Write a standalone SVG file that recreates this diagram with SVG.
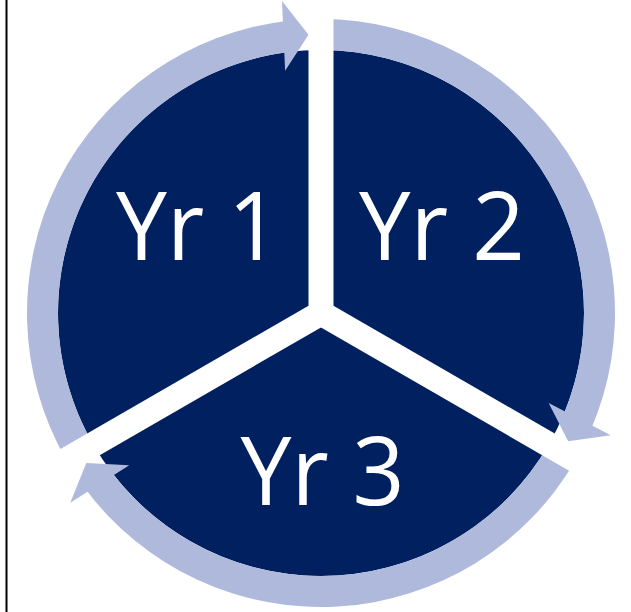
<svg xmlns="http://www.w3.org/2000/svg" width="631" height="612" viewBox="0 0 631 612">
<style>
.sector{fill:#002060}
.ring{fill:#AEB9DC}
.gap{fill:#FFFFFF}
.lbl{font-family:"Open Sans","Noto Sans","Liberation Sans",sans-serif;font-size:95px;fill:#FFFFFF;text-anchor:middle}
</style>
<rect width="631" height="612" fill="#FFFFFF"/>
<line x1="6.5" y1="0" x2="6.5" y2="612" stroke="#000000" stroke-width="2"/>
<g id="yr1">
<path class="sector" d="M321 313 L93.24 444.5 A263 263 0 0 1 321 50 Z"/>
<text class="lbl" x="198" y="260" textLength="164" lengthAdjust="spacingAndGlyphs">Yr 1</text>
</g>
<g id="yr2">
<path class="sector" d="M321 313 L321 50 A263 263 0 0 1 548.77 444.5 Z"/>
<text class="lbl" x="442" y="260" textLength="166" lengthAdjust="spacingAndGlyphs">Yr 2</text>
</g>
<g id="yr3">
<path class="sector" d="M321 313 L548.77 444.5 A263 263 0 0 1 93.24 444.5 Z"/>
<text class="lbl" x="322.5" y="505" textLength="164" lengthAdjust="spacingAndGlyphs">Yr 3</text>
</g>
<g id="connectors">
<path class="ring" d="M66.39 460 A294 294 0 0 1 286.66 21.03 L290.28 51.81 A263 263 0 0 0 93.24 444.5 Z"/>
<polygon class="ring" points="308.51,34.78 281.97,0.94 285.11,70.86"/>
<path class="ring" d="M321 19 A294 294 0 0 1 591.04 429.25 L562.57 416.99 A263 263 0 0 0 321 50 Z"/>
<polygon class="ring" points="568.19,441.3 610.77,435.23 548.65,402.99"/>
<path class="ring" d="M575.61 460 A294 294 0 0 1 85.28 488.7 L110.13 470.18 A263 263 0 0 0 548.77 444.5 Z"/>
<polygon class="ring" points="86.3,462.93 70.26,502.84 129.26,465.16"/>
</g>
<g id="separators">
<rect class="gap" x="-7.3" y="-12.5" width="345" height="25" transform="translate(321 313) rotate(-90)"/>
<rect class="gap" x="-7.3" y="-12.5" width="345" height="25" transform="translate(321 313) rotate(30)"/>
<rect class="gap" x="-7.3" y="-12.5" width="345" height="25" transform="translate(321 313) rotate(150)"/>
</g>
</svg>
